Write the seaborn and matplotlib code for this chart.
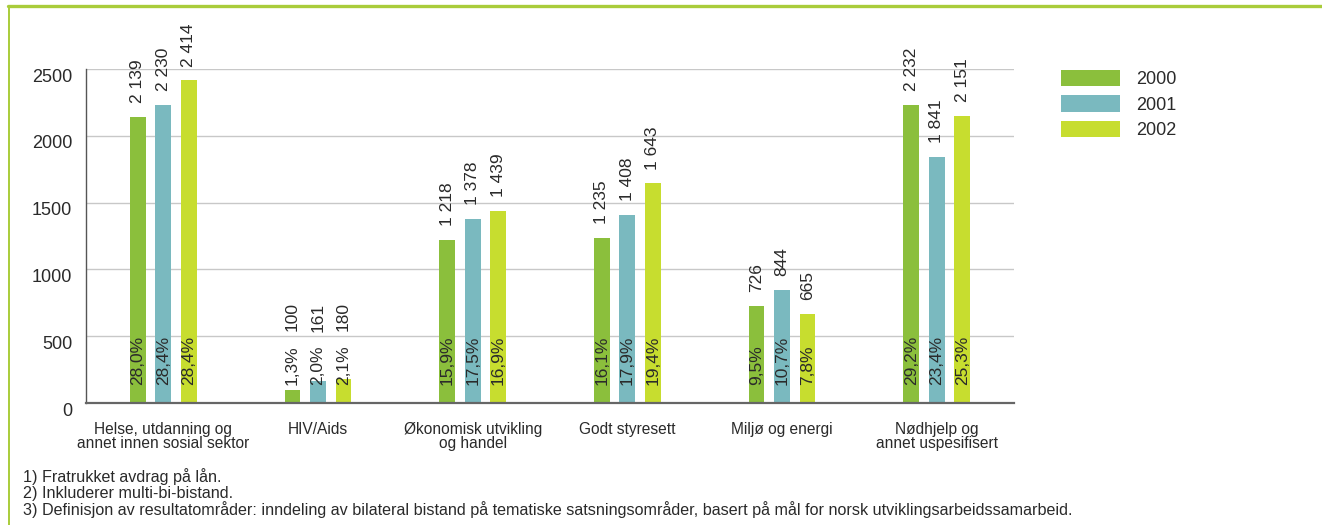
import pandas as pd
import matplotlib
matplotlib.use("Agg")
import matplotlib.pyplot as plt
import matplotlib.transforms as mtransforms
from matplotlib.lines import Line2D
import seaborn as sns

# Data
categories = [
    "Helse, utdanning og\nannet innen sosial sektor",
    "HIV/Aids",
    "Økonomisk utvikling\nog handel",
    "Godt styresett",
    "Miljø og energi",
    "Nødhjelp og\nannet uspesifisert",
]
years = ["2000", "2001", "2002"]
values_2000 = [2139, 100, 1218, 1235, 726, 2232]
values_2001 = [2230, 161, 1378, 1408, 844, 1841]
values_2002 = [2414, 180, 1439, 1643, 665, 2151]
share_2000 = ["28,0%", "1,3%", "15,9%", "16,1%", "9,5%", "29,2%"]
share_2001 = ["28,4%", "2,0%", "17,5%", "17,9%", "10,7%", "23,4%"]
share_2002 = ["28,4%", "2,1%", "16,9%", "19,4%", "7,8%", "25,3%"]
y_ticks = [0, 500, 1000, 1500, 2000, 2500]
footnotes = [
    "1) Fratrukket avdrag på lån.",
    "2) Inkluderer multi-bi-bistand.",
    "3) Definisjon av resultatområder: inndeling av bilateral bistand på tematiske "
    "satsningsområder, basert på mål for norsk utviklingsarbeidssamarbeid.",
]

colors = ["#8bbf3c", "#7ab9bf", "#c7dd2f"]
frame_green = "#a9cc3a"
text_color = "#2a2a2a"

sns.set_style("white")
plt.rcParams["font.family"] = ["Liberation Sans", "DejaVu Sans"]

df = pd.DataFrame({
    "Kategori": categories * 3,
    "År": [y for y in years for _ in categories],
    "Verdi": values_2000 + values_2001 + values_2002,
})
shares = [share_2000, share_2001, share_2002]

W, H = 1322, 525
fig = plt.figure(figsize=(W / 100, H / 100), dpi=100)
ax = fig.add_axes([86 / W, 122 / H, (1014 - 86) / W, (403 - 69) / H])

sns.barplot(data=df, x="Kategori", y="Verdi", hue="År", hue_order=years,
            order=categories, palette=colors, saturation=1, width=0.494,
            gap=0.376, linewidth=0, errorbar=None, ax=ax)

ax.set_xlim(-0.5, len(categories) - 0.5)
ax.set_ylim(0, 2500)
ax.set_yticks(y_ticks)
ax.set_xlabel("")
ax.set_ylabel("")

# grid and spines
ax.set_axisbelow(True)
ax.yaxis.grid(True, color="#c8c8c8", linewidth=1)
ax.xaxis.grid(False)
for side in ["top", "right"]:
    ax.spines[side].set_visible(False)
ax.spines["left"].set_color("#555555")
ax.spines["left"].set_linewidth(1)
ax.spines["bottom"].set_color("#666666")
ax.spines["bottom"].set_linewidth(1.6)

# ticks
ax.tick_params(axis="y", length=0, pad=10, labelsize=13, labelcolor=text_color)
ax.tick_params(axis="x", which="major", length=0, pad=13.5, labelsize=11.2,
               labelcolor=text_color)
ax.set_xticks([i - 0.5 for i in range(len(categories) + 1)], minor=True)
ax.tick_params(axis="x", which="minor", direction="in", length=6, width=1,
               color="#555555")
for lab in ax.get_xticklabels():
    lab.set_linespacing(0.95)
shift = mtransforms.ScaledTranslation(0, -6 / 100, fig.dpi_scale_trans)
for lab in ax.get_yticklabels():
    lab.set_transform(lab.get_transform() + shift)

# share labels inside the bars, value labels above bar or share label
renderer = fig.canvas.get_renderer()
inv = ax.transData.inverted()
for container, share in zip(ax.containers, shares):
    for bar, s in zip(container, share):
        xc = bar.get_x() + bar.get_width() / 2
        h = bar.get_height()
        st = ax.text(xc, 135, s, rotation=90, ha="center", va="bottom",
                     fontsize=12.5, color=text_color)
        top = inv.transform((0, st.get_window_extent(renderer).y1))[1]
        base = max(h, top)
        ax.annotate(f"{int(h):,}".replace(",", " "), (xc, base), xytext=(0, 10),
                    textcoords="offset points", rotation=90, ha="center",
                    va="bottom", fontsize=12.5, color=text_color)

# legend
sns.move_legend(ax, "upper left", bbox_to_anchor=((1061 - 86) / 928, (403 - 70) / 334),
                title=None, frameon=False, fontsize=13, borderaxespad=0,
                borderpad=0, handlelength=3.27, handleheight=1.0,
                handletextpad=0.9, labelspacing=0.4)
for t in ax.get_legend().get_texts():
    t.set_color(text_color)

# footnotes
for i, note in enumerate(footnotes):
    fig.text(23 / W, 1 - (477 + 16.5 * i) / H, note, ha="left", va="center",
             fontsize=11.6, color=text_color)

# green frame
fig.add_artist(Line2D([8 / W, 1], [1 - 5.5 / H, 1 - 5.5 / H],
                      transform=fig.transFigure, color=frame_green, linewidth=2.4))
fig.add_artist(Line2D([9 / W, 9 / W], [0, 1 - 5.5 / H],
                      transform=fig.transFigure, color=frame_green, linewidth=1.4))

fig.savefig("out.png", dpi=100)
